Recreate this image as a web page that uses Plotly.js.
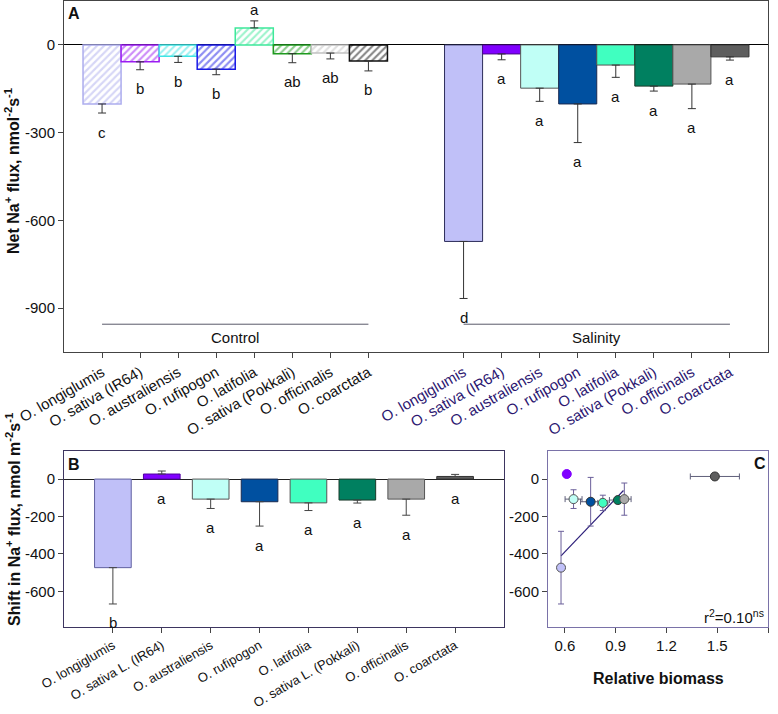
<!DOCTYPE html>
<html>
<head>
<meta charset="utf-8">
<script src="https://cdn.plot.ly/plotly-3.0.1.min.js"></script>
<style>html,body{margin:0;padding:0;background:#fff;}#chart{width:778px;height:714px;}</style>
</head>
<body>
<div id="chart"></div>
<script>
// ---------- data ----------
const speciesA = ["O. longiglumis","O. sativa (IR64)","O. australiensis","O. rufipogon","O. latifolia","O. sativa (Pokkali)","O. officinalis","O. coarctata"];
const speciesB = ["O. longiglumis","O. sativa L. (IR64)","O. australiensis","O. rufipogon","O. latifolia","O. sativa L. (Pokkali)","O. officinalis","O. coarctata"];
const controlFlux = [-202, -58, -39, -83, 58, -30, -28, -55];
const controlSE   = [31, 27, 21, 19, 24, 31, 20, 34];
const controlLetters = ["c","b","b","b","a","ab","ab","b"];
const salinityFlux = [-672, -31, -148, -202, -69, -141, -134, -41];
const salinitySE   = [195, 20, 45, 132, 42, 17, 84, 11];
const salinityLetters = ["d","a","a","a","a","a","a","a"];
const shiftFlux = [-473, 27, -107, -121, -127, -112, -107, 14];
const shiftSE   = [194, 16, 50, 130, 41, 16, 86, 11];
const shiftLetters = ["b","a","a","a","a","a","a","a"];
const relBiomass = [0.577, 0.611, 0.651, 0.752, 0.824, 0.913, 0.951, 1.486];
const relBiomassSE = [0.015, 0, 0.05, 0.06, 0.03, 0.05, 0.04, 0.145];
const fitX = [0.577, 0.946];
const fitY = [-410, -61];
const yTicksA = [-900, -600, -300, 0];
const yTicksB = [-600, -400, -200, 0];
const xTicksC = [0.6, 0.9, 1.2, 1.5, 1.8];

// ---------- styles ----------
const FONT = "Arial, 'Liberation Sans', sans-serif";
const ctrlColors = ["#adadee","#9b1cf2","#3ee4e4","#1a1ae6","#3ee89a","#1f9a1f","#c2c2c2","#111111"];
const salColors  = ["#c0c0f8","#8000ff","#c0fff6","#0050a0","#40ffc0","#008060","#a9a9a9","#5e5e5e"];
const salLines   = ["#2d2d5a","#4a0a8a","#555555","#1a2a50","#555555","#1a3a2a","#555555","#333333"];
const bLines     = ["#6060a0","#5000a0","#555555","#1a2a50","#555555","#1a3a2a","#555555","#333333"];

const ctrlX = speciesA.map((_, i) => i);
const salX  = speciesA.map((_, i) => i + 9.5);
const bX    = speciesB.map((_, i) => i);

function errs(vals, se) {
  return {
    plus:  vals.map((v, i) => v >= 0 ? se[i] : 0),
    minus: vals.map((v, i) => v < 0 ? se[i] : 0)
  };
}
const eC = errs(controlFlux, controlSE), eS = errs(salinityFlux, salinitySE), eB = errs(shiftFlux, shiftSE);

const traces = [
  {
    type: "bar", x: ctrlX, y: controlFlux, width: 1, xaxis: "x", yaxis: "y",
    marker: {
      color: "white",
      line: {color: ctrlColors, width: 1.5},
      pattern: {shape: "/", fgcolor: ctrlColors, bgcolor: "white", size: 5, solidity: 0.42, fillmode: "overlay"}
    },
    error_y: {type: "data", symmetric: false, array: eC.plus, arrayminus: eC.minus, color: "#333", thickness: 1, width: 4},
    hoverinfo: "skip", showlegend: false
  },
  {
    type: "bar", x: salX, y: salinityFlux, width: 1, xaxis: "x", yaxis: "y",
    marker: {color: salColors, line: {color: salLines, width: 1}},
    error_y: {type: "data", symmetric: false, array: eS.plus, arrayminus: eS.minus, color: "#333", thickness: 1, width: 4},
    hoverinfo: "skip", showlegend: false
  },
  {
    type: "bar", x: bX, y: shiftFlux, width: 0.75, xaxis: "x2", yaxis: "y2",
    marker: {color: salColors, line: {color: bLines, width: 1}},
    error_y: {type: "data", symmetric: false, array: eB.plus, arrayminus: eB.minus, color: "#444", thickness: 1, width: 4},
    hoverinfo: "skip", showlegend: false
  },
  {
    type: "scatter", mode: "lines", x: fitX, y: fitY, xaxis: "x3", yaxis: "y3",
    line: {color: "#2d1f7a", width: 1.2}, hoverinfo: "skip", showlegend: false
  },
  {
    type: "scatter", mode: "markers", x: relBiomass, y: shiftFlux, xaxis: "x3", yaxis: "y3",
    marker: {size: 9, color: salColors, line: {color: ["#555","#8000ff","#555","#333","#555","#333","#555","#333"], width: 1}},
    error_x: {type: "data", array: relBiomassSE, color: "#5f5f7a", thickness: 1, width: 3},
    error_y: {type: "data", array: shiftSE, color: "#6a5f9a", thickness: 1, width: 3},
    hoverinfo: "skip", showlegend: false
  }
];

// ---------- annotations ----------
const annotations = [];
function addLetters(xs, vals, se, letters, xref, yref, belowZeroAlways) {
  xs.forEach((x, i) => {
    let y, shift;
    if (vals[i] >= 0 && !belowZeroAlways) { y = vals[i] + se[i]; shift = 11; }
    else if (vals[i] >= 0) { y = 0; shift = -19; }
    else { y = vals[i] - se[i]; shift = -19; }
    annotations.push({x: x, y: y, xref: xref, yref: yref, text: letters[i], showarrow: false,
      xanchor: "center", yanchor: "middle",
      yshift: shift, font: {family: FONT, size: 15, color: "#111"}});
  });
}
addLetters(ctrlX, controlFlux, controlSE, controlLetters, "x", "y", false);
addLetters(salX, salinityFlux, salinitySE, salinityLetters, "x", "y", false);
addLetters(bX, shiftFlux, shiftSE, shiftLetters, "x2", "y2", true);

function paperNote(px, py, text, size, extra) {
  return Object.assign({x: px/778, y: 1 - py/714, xref: "paper", yref: "paper", text: text, showarrow: false,
    xanchor: "center", yanchor: "middle", font: {family: FONT, size: size, color: "#111"}}, extra || {});
}

annotations.push(
  {x: 3.5, y: -1002, xref: "x", yref: "y", text: "Control", showarrow: false, xanchor: "center", yanchor: "middle", font: {family: FONT, size: 15, color: "#111"}},
  {x: 13, y: -1002, xref: "x", yref: "y", text: "Salinity", showarrow: false, xanchor: "center", yanchor: "middle", font: {family: FONT, size: 15, color: "#111"}},
  paperNote(74, 13, "<b>A</b>", 16),
  paperNote(74, 464, "<b>B</b>", 16),
  paperNote(760, 463, "<b>C</b>", 16),
  paperNote(12, 171, "<b>Net Na<sup>+</sup> flux, nmol<sup>-2</sup>s<sup>-1</sup></b>", 16, {textangle: -90}),
  paperNote(13, 520, "<b>Shift in Na<sup>+</sup> flux, nmol m<sup>-2</sup>s<sup>-1</sup></b>", 16, {textangle: -90}),
  paperNote(658, 678, "<b>Relative biomass</b>", 16),
  paperNote(766, 616, "r<sup>2</sup>=0.10<sup>ns</sup>", 15, {xanchor: "right"})
);

const shapes = [
  {type: "line", xref: "x", yref: "y", x0: ctrlX[0], x1: ctrlX[ctrlX.length-1], y0: -955, y1: -955, line: {color: "#5a5a6a", width: 1}},
  {type: "line", xref: "x", yref: "y", x0: salX[0], x1: salX[salX.length-1], y0: -955, y1: -955, line: {color: "#5a5a6a", width: 1}}
];

const ticktextA = speciesA.concat(speciesA.map(s => "<span style='color:#2b1670'>" + s + "</span>"));

const axBase = {showgrid: false, showline: true, mirror: true, ticks: "outside", ticklen: 5, tickwidth: 1, automargin: false,
  tickfont: {family: FONT, size: 15, color: "#111"}};

const layout = {
  width: 778, height: 714,
  margin: {l: 0, r: 0, t: 0, b: 0},
  paper_bgcolor: "white", plot_bgcolor: "white",
  showlegend: false, barmode: "overlay",
  font: {family: FONT, color: "#111"},
  xaxis: Object.assign({}, axBase, {
    domain: [64/778, 768/778], anchor: "y", range: [-1, 17.5],
    tickmode: "array", tickvals: ctrlX.concat(salX), ticktext: ticktextA, tickangle: -30,
    tickfont: {family: FONT, size: 15, color: "#111"}, linecolor: "#444", zeroline: false
  }),
  yaxis: Object.assign({}, axBase, {
    domain: [1 - 352/714, 1 - 1/714], anchor: "x", range: [-1050, 150],
    tickmode: "array", tickvals: yTicksA, ticktext: yTicksA.map(String), linecolor: "#444",
    zeroline: true, zerolinecolor: "#000", zerolinewidth: 1
  }),
  xaxis2: Object.assign({}, axBase, {
    domain: [64/778, 504/778], anchor: "y2", range: [-1, 8],
    tickmode: "array", tickvals: bX, ticktext: speciesB, tickangle: -30,
    tickfont: {family: FONT, size: 13, color: "#111"}, linecolor: "#3d3560", zeroline: false
  }),
  yaxis2: Object.assign({}, axBase, {
    domain: [1 - 627/714, 1 - 451/714], anchor: "x2", range: [-790, 150],
    tickmode: "array", tickvals: yTicksB, ticktext: yTicksB.map(String), linecolor: "#3d3560",
    zeroline: true, zerolinecolor: "#222", zerolinewidth: 1
  }),
  xaxis3: Object.assign({}, axBase, {
    domain: [548/778, 768/778], anchor: "y3", range: [0.5, 1.8],
    tickmode: "array", tickvals: xTicksC, ticktext: xTicksC.map(v => v.toFixed(1)),
    linecolor: "#7a72a8", zeroline: false
  }),
  yaxis3: Object.assign({}, axBase, {
    domain: [1 - 627/714, 1 - 451/714], anchor: "x3", range: [-790, 150],
    tickmode: "array", tickvals: yTicksB, ticktext: yTicksB.map(String), linecolor: "#7a72a8", zeroline: false
  }),
  annotations: annotations,
  shapes: shapes
};

Plotly.newPlot("chart", traces, layout, {staticPlot: true, displayModeBar: false});
</script>
</body>
</html>
